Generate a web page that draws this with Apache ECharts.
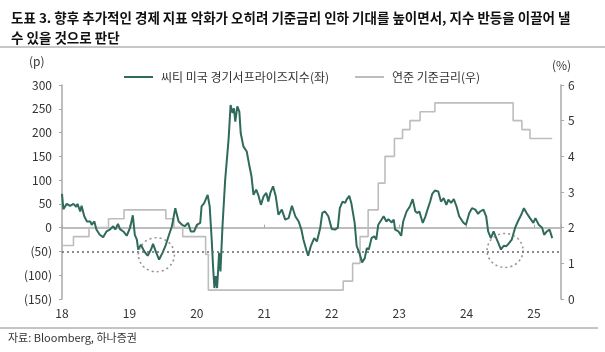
<!DOCTYPE html>
<html>
<head>
<meta charset="utf-8">
<script src="https://cdn.jsdelivr.net/npm/echarts@6/dist/echarts.min.js"></script>
<style>
  html, body { margin: 0; padding: 0; background: #fff; }
  #chart { width: 605px; height: 352px; }
</style>
</head>
<body>
<div id="chart"></div>
<script>
// 씨티 미국 경기서프라이즈지수 (좌), 시점은 연도 소수 표기
const surpriseDates = [
  2018.00, 2018.02, 2018.07, 2018.12, 2018.17, 2018.21, 2018.23, 2018.27, 2018.29, 2018.33,
  2018.37, 2018.42, 2018.44, 2018.48, 2018.51, 2018.56, 2018.61, 2018.66, 2018.71, 2018.76,
  2018.79, 2018.83, 2018.86, 2018.91, 2018.96, 2019.01, 2019.05, 2019.08, 2019.11, 2019.13,
  2019.17, 2019.22, 2019.27, 2019.32, 2019.35, 2019.39, 2019.44, 2019.49, 2019.53, 2019.58,
  2019.63, 2019.68, 2019.73, 2019.78, 2019.82, 2019.87, 2019.91, 2019.96, 2020.00, 2020.05,
  2020.07, 2020.11, 2020.16, 2020.19, 2020.22, 2020.24, 2020.26, 2020.28, 2020.30, 2020.33,
  2020.35, 2020.38, 2020.42, 2020.47, 2020.50, 2020.53, 2020.55, 2020.57, 2020.60, 2020.63,
  2020.65, 2020.69, 2020.74, 2020.78, 2020.81, 2020.84, 2020.88, 2020.91, 2020.95, 2020.99,
  2021.03, 2021.06, 2021.09, 2021.13, 2021.17, 2021.21, 2021.26, 2021.31, 2021.36, 2021.41,
  2021.46, 2021.51, 2021.55, 2021.58, 2021.63, 2021.65, 2021.69, 2021.74, 2021.78, 2021.83,
  2021.86, 2021.90, 2021.95, 2022.00, 2022.05, 2022.09, 2022.12, 2022.16, 2022.20, 2022.22,
  2022.26, 2022.29, 2022.34, 2022.37, 2022.41, 2022.45, 2022.49, 2022.52, 2022.55, 2022.59,
  2022.63, 2022.66, 2022.69, 2022.74, 2022.77, 2022.81, 2022.84, 2022.89, 2022.92, 2022.94,
  2022.99, 2023.03, 2023.06, 2023.11, 2023.16, 2023.20, 2023.24, 2023.27, 2023.30, 2023.35,
  2023.39, 2023.42, 2023.46, 2023.49, 2023.53, 2023.58, 2023.62, 2023.66, 2023.70, 2023.73,
  2023.77, 2023.81, 2023.85, 2023.89, 2023.95, 2023.99, 2024.04, 2024.08, 2024.13, 2024.17,
  2024.20, 2024.25, 2024.29, 2024.32, 2024.36, 2024.40, 2024.44, 2024.47, 2024.51, 2024.55,
  2024.59, 2024.62, 2024.67, 2024.72, 2024.76, 2024.81, 2024.85, 2024.89, 2024.94, 2024.99,
  2025.02, 2025.07, 2025.12, 2025.15, 2025.19, 2025.23, 2025.27
];
const surpriseValues = [
  71, 39, 50, 46, 50, 44, 50, 34, 46, 24,
  13, 13, 6, 13, -4, -15, -20, -8, -4, 3,
  -4, 8, -3, -8, -17, 0, 26, -15, -25, -46,
  -36, -50, -59, -46, -34, -50, -67, -53, -40, -18,
  3, 41, 13, 6, 3, 10, -8, -8, 6, 10,
  45, 52, 69, 45, -25, -81, -127, -102, -127, -53,
  -92, 3, 101, 185, 258, 241, 251, 223, 255, 244,
  199, 171, 160, 129, 108, 69, 80, 69, 48, 66,
  73, 55, 73, 87, 66, 27, 38, 17, 20, 46,
  24, 13, -4, -25, -50, -59, -39, -22, -29, 0,
  31, 34, 24, -3, -4, 0, 41, 55, 52, 59,
  67, 52, 10, -39, -53, -73, -64, -43, -46, -22,
  -18, -25, 6, 17, 24, 13, 18, 11, 17, -4,
  -8, -17, 13, 34, 45, 60, 34, 31, 34, 10,
  24, 38, 55, 71, 78, 76, 55, 62, 48, 59,
  52, 60, 45, 24, 11, 6, 31, 41, 38, 29,
  34, 38, 24, -8, -22, -8, -22, -32, -46, -38,
  -39, -34, -25, 0, 13, 27, 41, 31, 20, 10,
  20, 6, 0, -15, -8, -4, -22
];

// 연준 기준금리 상단 (우), 변경 시점
const rateDates = [
  2018.00, 2018.17, 2018.40, 2018.69, 2018.92, 2019.54, 2019.66, 2019.79, 2020.13, 2020.17,
  2022.17, 2022.31, 2022.42, 2022.54, 2022.69, 2022.79, 2022.93, 2023.05, 2023.16, 2023.31,
  2023.53, 2024.69, 2024.82, 2024.94, 2025.27
];
const rateValues = [
  1.50, 1.75, 2.00, 2.25, 2.50, 2.25, 2.00, 1.75, 1.25, 0.25,
  0.50, 1.00, 1.75, 2.50, 3.25, 4.00, 4.50, 4.75, 5.00, 5.25,
  5.50, 5.00, 4.75, 4.50, 4.50
];

const yearTicks = [2018, 2019, 2020, 2021, 2022, 2023, 2024, 2025];
const refLevels = [0, -50];
const circleCenters = [[2019.40, -57], [2024.57, -48]];

const seriesNames = ['씨티 미국 경기서프라이즈지수(좌)', '연준 기준금리(우)'];
const titleText = '도표 3. 향후 추가적인 경제 지표 악화가 오히려 기준금리 인하 기대를 높이면서, 지수 반등을 이끌어 낼\n수 있을 것으로 판단';
const sourceText = '자료: Bloomberg, 하나증권';

const FONT = '"Noto Sans CJK KR", "Noto Sans", sans-serif';
const GREEN = '#2f6a5c';
const GRAY = '#bdbdbd';

const zip = (xs, ys) => xs.map((x, i) => [x, ys[i]]);

const chart = echarts.init(document.getElementById('chart'));

chart.setOption({
  animation: false,
  textStyle: { fontFamily: FONT },
  title: {
    text: titleText,
    left: 6,
    top: 3,
    textStyle: { fontFamily: FONT, fontSize: 13.5, fontWeight: 'bold', color: '#111', lineHeight: 20 }
  },
  legend: {
    data: seriesNames.map((n) => ({ name: n, icon: 'rect' })),
    left: 119,
    top: 66,
    itemWidth: 29,
    itemHeight: 2,
    itemGap: 26,
    textStyle: { fontFamily: FONT, fontSize: 12, color: '#333', padding: [0, 0, 0, 3] }
  },
  grid: { left: 62, right: 44, top: 85, bottom: 53 },
  xAxis: [{
    type: 'value',
    min: 2018,
    max: 2025.4,
    interval: 1,
    axisLine: { show: false, onZero: false },
    axisTick: { show: false },
    splitLine: { show: false },
    axisLabel: {
      fontFamily: FONT,
      fontSize: 12,
      color: '#333',
      margin: 8,
      showMaxLabel: false,
      formatter: (v) => (yearTicks.indexOf(v) >= 0 ? String(v).slice(2) : '')
    }
  }, {
    type: 'value',
    min: 2018,
    max: 2025.4,
    interval: 1,
    position: 'top',
    axisLine: { show: true, onZero: true, onZeroAxisIndex: 0, lineStyle: { color: '#a8a8a8', width: 1.5 } },
    axisTick: { show: true, inside: false, length: 3, lineStyle: { color: '#a8a8a8' } },
    axisLabel: { show: false },
    splitLine: { show: false }
  }],
  yAxis: [{
    type: 'value',
    min: -150,
    max: 300,
    interval: 50,
    axisLine: { show: true, lineStyle: { color: '#a8a8a8', width: 1.5 } },
    axisTick: { show: true, length: 3, lineStyle: { color: '#a8a8a8' } },
    splitLine: { show: false },
    axisLabel: {
      fontFamily: FONT,
      fontSize: 12,
      color: '#333',
      margin: 10,
      formatter: (v) => (v < 0 ? '(' + Math.abs(v) + ')' : String(v))
    }
  }, {
    type: 'value',
    position: 'right',
    min: 0,
    max: 6,
    interval: 1,
    axisLine: { show: true, lineStyle: { color: '#a8a8a8', width: 1.5 } },
    axisTick: { show: true, length: 3, lineStyle: { color: '#a8a8a8' } },
    splitLine: { show: false },
    axisLabel: { fontFamily: FONT, fontSize: 12, color: '#333', margin: 7 }
  }],
  graphic: [
    { type: 'line', shape: { x1: 0, y1: 47, x2: 605, y2: 47 }, style: { stroke: '#b5b5b5', lineWidth: 1.5 } },
    { type: 'text', left: 29, top: 55, style: { text: '(p)', font: '12px ' + FONT, fill: '#333' } },
    { type: 'text', left: 552, top: 59, style: { text: '(%)', font: '12px ' + FONT, fill: '#333' } },
    { type: 'line', shape: { x1: 0, y1: 328, x2: 598, y2: 328 }, style: { stroke: '#8a8a8a', lineWidth: 1 } },
    { type: 'text', left: 8, top: 332, style: { text: sourceText, font: '11px ' + FONT, fill: '#333' } }
  ],
  series: [{
    name: seriesNames[1],
    type: 'line',
    yAxisIndex: 1,
    step: 'end',
    symbol: 'none',
    data: zip(rateDates, rateValues),
    lineStyle: { color: GRAY, width: 1.6 },
    itemStyle: { color: GRAY },
    z: 2
  }, {
    name: seriesNames[0],
    type: 'line',
    yAxisIndex: 0,
    symbol: 'none',
    sampling: 'none',
    data: zip(surpriseDates, surpriseValues),
    lineStyle: { color: GREEN, width: 2 },
    itemStyle: { color: GREEN },
    z: 4,
    markLine: {
      silent: true,
      symbol: 'none',
      label: { show: false },
      data: [{
        yAxis: refLevels[1],
        lineStyle: { type: [2, 3], color: '#666', width: 1.5 }
      }]
    }
  }, {
    name: 'circles',
    type: 'scatter',
    yAxisIndex: 0,
    symbol: 'circle',
    symbolSize: [36, 34],
    data: circleCenters,
    silent: true,
    itemStyle: { color: 'rgba(0,0,0,0)', borderColor: '#777', borderWidth: 1.5, borderType: [2, 3] },
    z: 5
  }]
});
</script>
</body>
</html>
